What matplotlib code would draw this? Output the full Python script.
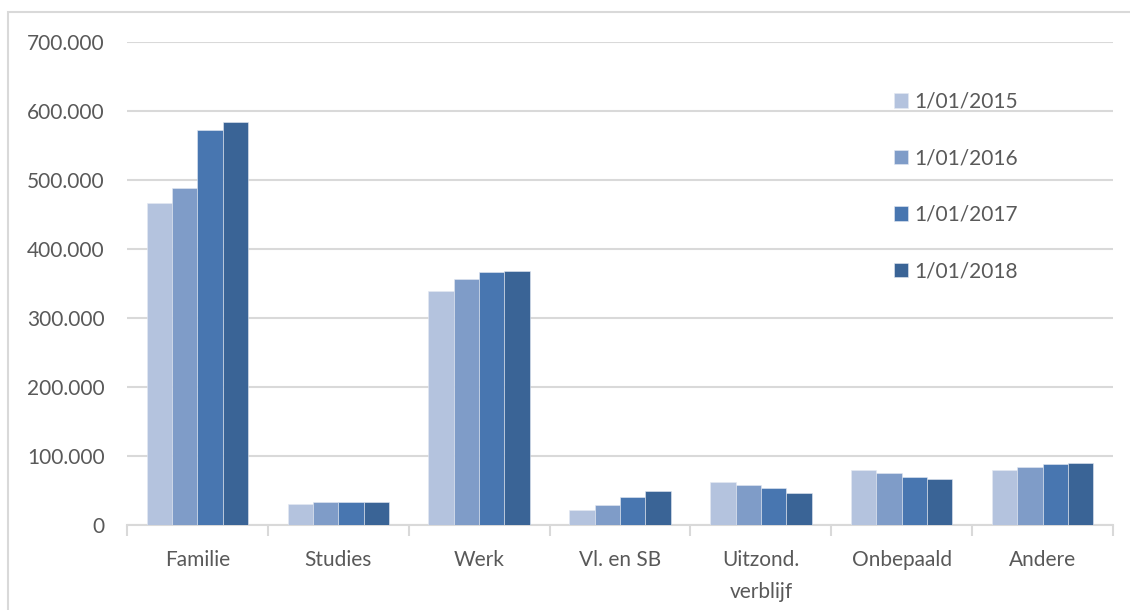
import numpy as np
import matplotlib
matplotlib.use("Agg")
from matplotlib import pyplot as plt
from matplotlib.patches import Rectangle

# DATA
categories = ["Familie", "Studies", "Werk", "Vl. en SB", "Uitzond.\nverblijf", "Onbepaald", "Andere"]
series_labels = ["1/01/2015", "1/01/2016", "1/01/2017", "1/01/2018"]
v2015 = [467000, 31000, 339000, 22000, 62000, 79000, 79000]
v2016 = [488000, 33000, 356000, 29000, 58000, 75000, 84000]
v2017 = [572000, 34000, 366000, 41000, 53000, 70000, 88000]
v2018 = [584000, 34000, 368000, 49000, 47000, 66000, 90000]
yticks = [0, 100000, 200000, 300000, 400000, 500000, 600000, 700000]

colors = ["#B4C3DE", "#7F9CC8", "#4876B0", "#3A6496"]
text_color = "#595959"
grid_color = "#D9D9D9"

plt.rcParams["font.family"] = ["Lato", "DejaVu Sans"]

W, H = 1130, 610
fig = plt.figure(figsize=(W / 100, H / 100), dpi=100)

# outer chart border
fig.patches.append(Rectangle((8 / W, -0.1), 1.2, 1 - 12 / H + 0.1, transform=fig.transFigure,
                             fill=False, edgecolor=grid_color, linewidth=1.5))

ax = fig.add_axes([127 / W, (H - 525) / H, 986 / W, (525 - 42) / H])

x = np.arange(len(categories))
bar_w = 0.18
all_series = [v2015, v2016, v2017, v2018]
for i, (vals, lab, col) in enumerate(zip(all_series, series_labels, colors)):
    ax.bar(x + (i - 1.5) * bar_w, vals, width=bar_w, color=col, label=lab,
           edgecolor="#E4E9F2", linewidth=0.4, zorder=3)

ax.set_xlim(-0.5, len(categories) - 0.5)
ax.set_ylim(0, 700000)
ax.set_yticks(yticks)
ax.set_yticklabels([f"{v:,}".replace(",", ".") for v in yticks])
ax.yaxis.grid(True, color=grid_color, linewidth=1.5, zorder=0)
ax.tick_params(axis="y", length=0, pad=16, labelsize=15, labelcolor=text_color)

# category labels centered, ticks at boundaries
ax.set_xticks(x)
ax.set_xticklabels(categories, linespacing=1.75)
ax.tick_params(axis="x", which="major", length=0, pad=18, labelsize=15, labelcolor=text_color)
ax.set_xticks(np.arange(len(categories) + 1) - 0.5, minor=True)
ax.tick_params(axis="x", which="minor", length=8, width=1.5, color=grid_color)
for lbl in ax.get_xticklabels():
    lbl.set_verticalalignment("top")

for s in ["top", "right", "left"]:
    ax.spines[s].set_visible(False)
ax.spines["bottom"].set_color(grid_color)
ax.spines["bottom"].set_linewidth(1.5)

fig.legend(loc="upper left", bbox_to_anchor=(875 / W, 1 - 73 / H), frameon=False,
           fontsize=15, labelcolor=text_color, handlelength=0.7, handleheight=0.7,
           handletextpad=0.3, labelspacing=1.75)

fig.savefig("out.png", dpi=100)
